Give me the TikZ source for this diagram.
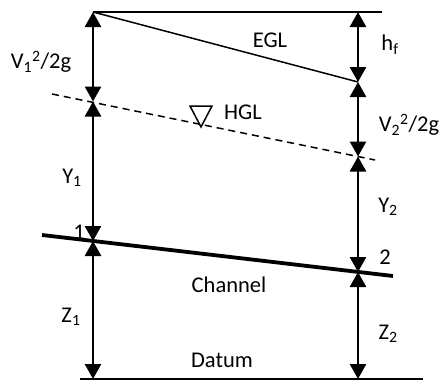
\documentclass[tikz,border=0pt]{standalone}
\usepackage{fontspec}
\setmainfont{Carlito}
\usetikzlibrary{arrows.meta}
\tikzset{
  dim/.style={line width=2.6pt,{Triangle[length=15pt,width=16pt]}-{Triangle[length=15pt,width=16pt]}},
  thinline/.style={line width=1.5pt},
  lbl/.style={font=\fontsize{22.5}{26}\selectfont, inner sep=0pt}
}
\begin{document}
\begin{tikzpicture}[x=1pt,y=-1pt]
\useasboundingbox (0,0) rectangle (443,380);
% key points
\coordinate (A1) at (93,12);
\coordinate (A2) at (93,101.5);
\coordinate (A3) at (93,241);
\coordinate (A4) at (93,379);
\coordinate (B0) at (382,12);
\coordinate (B1) at (358,82);
\coordinate (B2) at (358,156.5);
\coordinate (B3) at (358,272);
\coordinate (B4) at (358,379);
\coordinate (T1) at (358,12);
\coordinate (H0) at (52,94);
\coordinate (H1) at (375,160);
\coordinate (C0) at (42,235);
\coordinate (C1) at (393,276);
\coordinate (D0) at (80,379);
\coordinate (D1) at (423,379);
% lines
\draw[thinline] (A1) -- (B0);
\draw[thinline] (A1) -- (B1);
\draw[thinline, dash pattern=on 7pt off 5pt] (H0) -- (H1);
\draw[line width=3.8pt] (C0) -- (C1);
\draw[thinline] (D0) -- (D1);
% dimension arrows
\draw[dim] (A1) -- (A2);
\draw[dim] (A2) -- (A3);
\draw[dim] (A3) -- (A4);
\draw[dim] (T1) -- (B1);
\draw[dim] (B1) -- (B2);
\draw[dim] (B2) -- (B3);
\draw[dim] (B3) -- (B4);
% water surface symbol
\draw[thinline, line join=miter] (190,106) -- (212,106) -- (201,127) -- cycle;
% labels
\node[lbl] (lv1) at (41,62) {V\textsubscript{1}\textsuperscript{2}/2g};
\node[lbl] (legl) at (270,40) {EGL};
\node[lbl] (lhf) at (390,45) {h\textsubscript{f}};
\node[lbl] (lhgl) at (243,112) {HGL};
\node[lbl] (lv2) at (409,125) {V\textsubscript{2}\textsuperscript{2}/2g};
\node[lbl] (ly1) at (72,178) {Y\textsubscript{1}};
\node[lbl] (ly2) at (388,207) {Y\textsubscript{2}};
\node[lbl] (l1) at (79,232) {1};
\node[lbl] (l2) at (385,257) {2};
\node[lbl] (lch) at (229,285) {Channel};
\node[lbl] (lz1) at (71,317) {Z\textsubscript{1}};
\node[lbl] (lz2) at (388,334) {Z\textsubscript{2}};
\node[lbl] (ldat) at (222,360) {Datum};
\end{tikzpicture}
\end{document}
